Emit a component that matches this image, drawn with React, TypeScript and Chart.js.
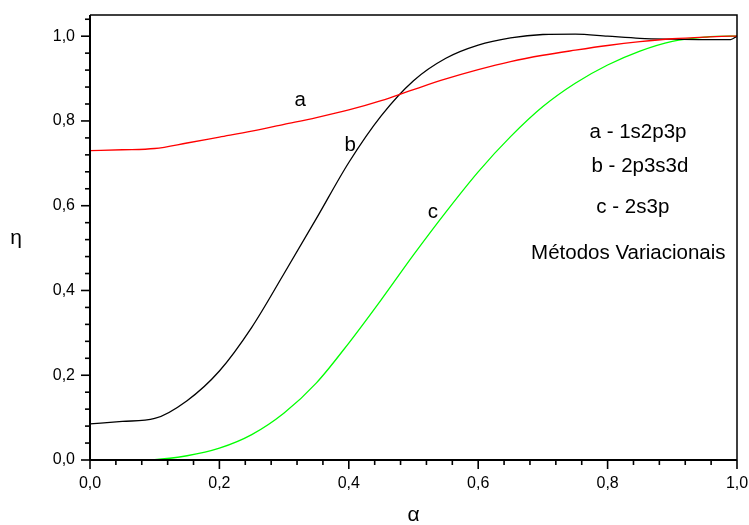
import React, { useEffect, useRef } from "react";
import { Chart, registerables } from "chart.js";

Chart.register(...registerables);

// α values (shared by all three curves)
const alpha = [0, 0.05, 0.1, 0.15, 0.2, 0.25, 0.3, 0.35, 0.4, 0.45, 0.5, 0.55, 0.6, 0.65, 0.7, 0.75, 0.8, 0.85, 0.9, 0.95, 0.99, 1.0];
// η for curve a - 1s2p3p (red)
const etaA = [0.730, 0.732, 0.735, 0.748, 0.762, 0.776, 0.792, 0.808, 0.826, 0.848, 0.874, 0.899, 0.921, 0.940, 0.955, 0.967, 0.978, 0.987, 0.994, 0.998, 1.0, 1.0];
// η for curve b - 2p3s3d (black)
const etaB = [0.085, 0.091, 0.098, 0.140, 0.210, 0.313, 0.440, 0.570, 0.702, 0.812, 0.895, 0.948, 0.979, 0.996, 1.004, 1.005, 1.0, 0.995, 0.993, 0.992, 0.992, 1.0];
// η for curve c - 2s3p (green)
const etaC = [0, 0, 0.001, 0.010, 0.028, 0.060, 0.111, 0.182, 0.276, 0.378, 0.484, 0.585, 0.680, 0.763, 0.834, 0.889, 0.932, 0.965, 0.988, 0.998, 1.0, 1.0];

const xTicks = [0, 0.2, 0.4, 0.6, 0.8, 1.0];
const yTicks = [0, 0.2, 0.4, 0.6, 0.8, 1.0];
const minorStep = 0.04;

const seriesNames = ["a", "b", "c"];
const legendLines = ["a - 1s2p3p", "b - 2p3s3d", "c - 2s3p", "Métodos Variacionais"];
const xTitle = "α";
const yTitle = "η";

const FONT = "'Liberation Sans', Arial, sans-serif";

// label anchors in data coordinates
const curveLabelPos = [
  [0.325, 0.849],
  [0.402, 0.743],
  [0.530, 0.585],
];
const legendPos = [
  [0.847, 0.774],
  [0.850, 0.693],
  [0.839, 0.597],
  [0.832, 0.488],
];

const fmt = (v: number) => v.toFixed(1).replace(".", ",");

const decorPlugin = {
  id: "decor",
  afterDraw(chart: any) {
    const ctx = chart.ctx;
    const xs = chart.scales.x;
    const ys = chart.scales.y;
    const { left, right, top, bottom } = chart.chartArea;
    ctx.save();
    ctx.strokeStyle = "#000";
    // top & right frame
    ctx.lineWidth = 1.5;
    ctx.beginPath();
    ctx.moveTo(left, top);
    ctx.lineTo(right, top);
    ctx.lineTo(right, bottom);
    ctx.stroke();
    // left & bottom axes
    ctx.lineWidth = 2;
    ctx.beginPath();
    ctx.moveTo(left, top);
    ctx.lineTo(left, bottom);
    ctx.lineTo(right, bottom);
    ctx.stroke();
    // ticks
    ctx.lineWidth = 1.6;
    const nx = Math.round(1 / minorStep);
    for (let i = 0; i <= nx; i++) {
      const v = i * minorStep;
      const major = i % 5 === 0;
      const px = xs.getPixelForValue(v);
      ctx.beginPath();
      ctx.moveTo(px, bottom);
      ctx.lineTo(px, bottom + (major ? 9 : 5));
      ctx.stroke();
    }
    const ny = Math.floor(ys.max / minorStep + 1e-6);
    for (let i = 0; i <= ny; i++) {
      const v = i * minorStep;
      const major = i % 5 === 0;
      const py = ys.getPixelForValue(v);
      ctx.beginPath();
      ctx.moveTo(left, py);
      ctx.lineTo(left - (major ? 9 : 5), py);
      ctx.stroke();
    }
    // axis titles
    ctx.fillStyle = "#000";
    ctx.textAlign = "center";
    ctx.textBaseline = "middle";
    ctx.font = `21px ${FONT}`;
    ctx.fillText(yTitle, 16, (top + bottom) / 2 + 1);
    ctx.fillText(xTitle, (left + right) / 2, 515);
    // curve labels
    ctx.font = `20.5px ${FONT}`;
    seriesNames.forEach((n, i) => {
      const [a, e] = curveLabelPos[i];
      ctx.fillText(n, xs.getPixelForValue(a), ys.getPixelForValue(e));
    });
    legendLines.forEach((t, i) => {
      const [a, e] = legendPos[i];
      ctx.fillText(t, xs.getPixelForValue(a), ys.getPixelForValue(e));
    });
    ctx.restore();
  },
};

export default function App() {
  const ref = useRef<HTMLCanvasElement | null>(null);
  useEffect(() => {
    document.body.style.margin = "0";
    const mk = (vals: number[]) => alpha.map((a, i) => ({ x: a, y: vals[i] }));
    const common = {
      pointRadius: 0,
      borderWidth: 1.3,
      cubicInterpolationMode: "monotone" as const,
      fill: false,
    };
    const chart = new Chart(ref.current!, {
      type: "line",
      data: {
        datasets: [
          { label: "a", data: mk(etaA), borderColor: "#ff0000", ...common },
          { label: "b", data: mk(etaB), borderColor: "#000000", ...common },
          { label: "c", data: mk(etaC), borderColor: "#00ff00", ...common },
        ],
      },
      options: {
        animation: false,
        responsive: false,
        maintainAspectRatio: false,
        devicePixelRatio: 1,
        layout: { padding: { left: 0, top: 15, right: 12, bottom: 0 } },
        plugins: { legend: { display: false }, tooltip: { enabled: false } },
        scales: {
          x: {
            type: "linear",
            min: 0,
            max: 1,
            grid: { display: false, drawTicks: false },
            border: { display: false },
            afterBuildTicks: (s: any) => {
              s.ticks = xTicks.map((v) => ({ value: v }));
            },
            afterFit: (s: any) => {
              s.height = 65;
              s.paddingLeft = 0;
              s.paddingRight = 0;
            },
            ticks: {
              padding: 14,
              maxRotation: 0,
              color: "#000",
              font: { family: FONT, size: 16 },
              callback: (v: any) => fmt(Number(v)),
            },
          },
          y: {
            type: "linear",
            min: 0,
            max: 1.05,
            grid: { display: false, drawTicks: false },
            border: { display: false },
            afterBuildTicks: (s: any) => {
              s.ticks = yTicks.map((v) => ({ value: v }));
            },
            afterFit: (s: any) => {
              s.width = 90;
              s.paddingTop = 0;
              s.paddingBottom = 0;
            },
            ticks: {
              padding: 15,
              color: "#000",
              font: { family: FONT, size: 16 },
              callback: (v: any) => fmt(Number(v)),
            },
          },
        },
      },
      plugins: [decorPlugin],
    });
    return () => chart.destroy();
  }, []);
  return (
    <div style={{ position: "fixed", left: 0, top: 0, width: 749, height: 525, background: "#fff" }}>
      <canvas ref={ref} width={749} height={525} style={{ width: 749, height: 525 }} />
    </div>
  );
}
